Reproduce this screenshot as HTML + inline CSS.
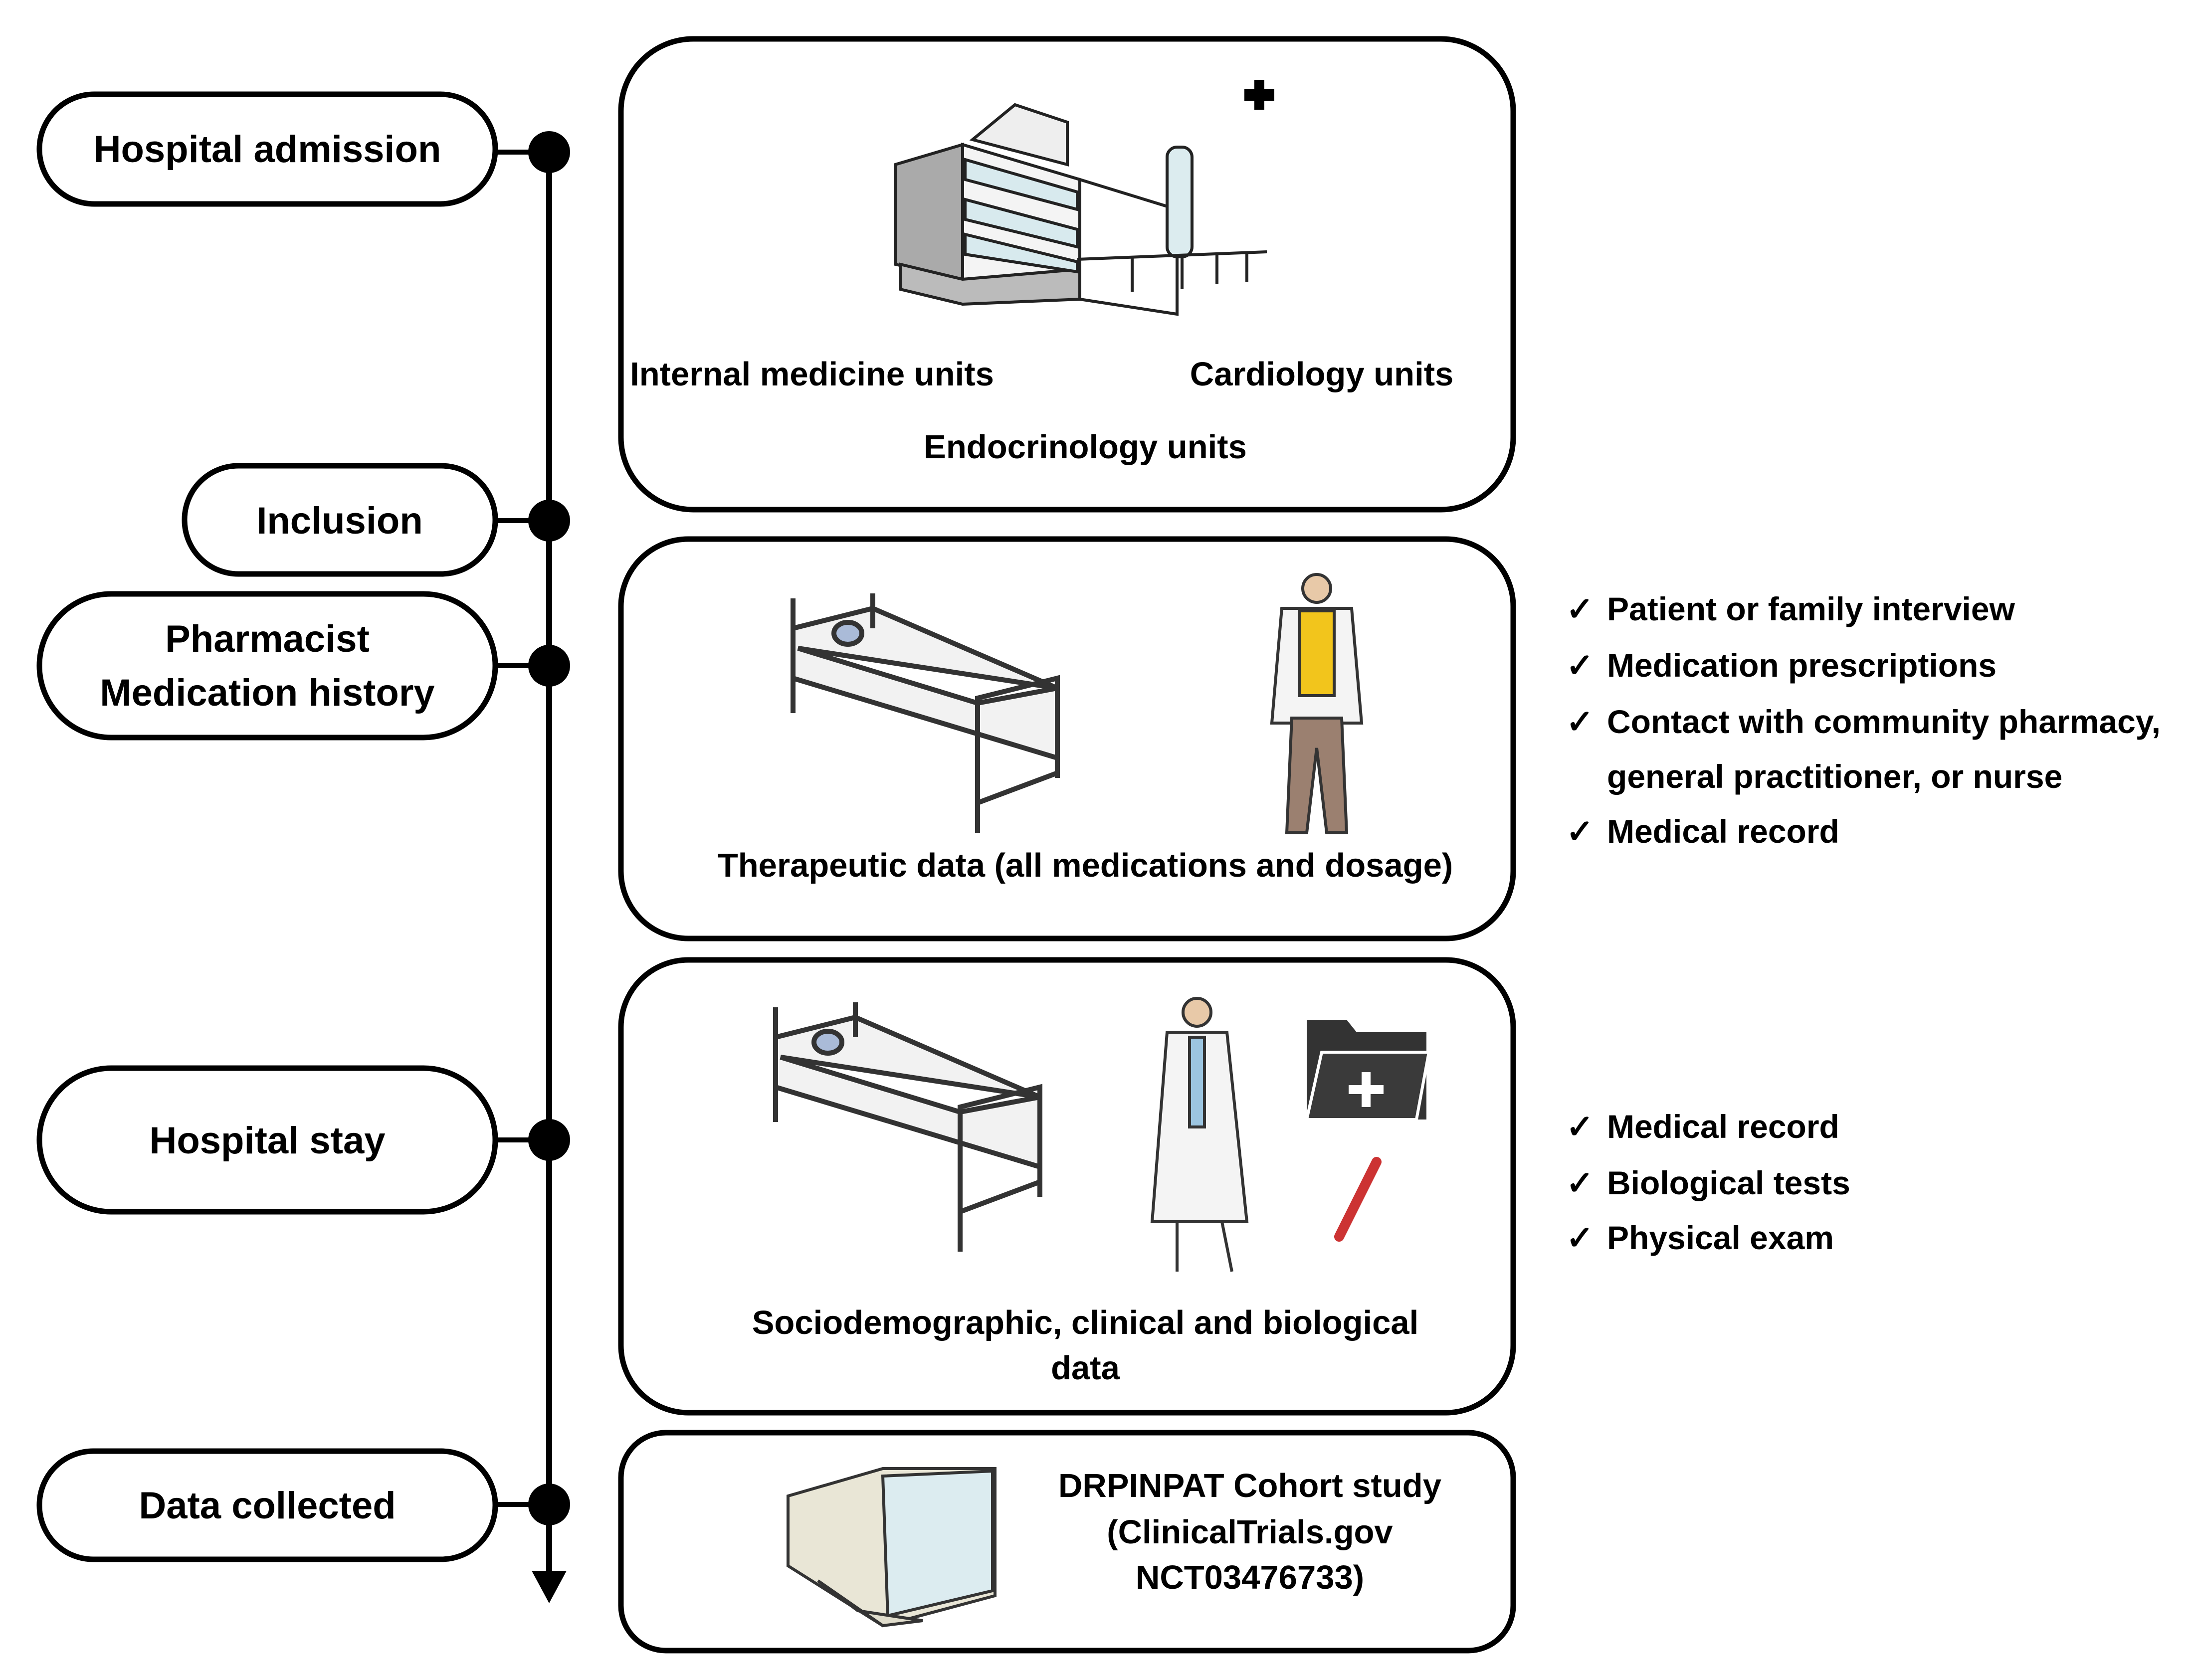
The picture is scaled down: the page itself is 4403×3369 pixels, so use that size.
<!DOCTYPE html>
<html><head><meta charset="utf-8"><style>
html,body{margin:0;padding:0;background:#fff;}
svg{display:block;}
text{font-family:"Liberation Sans",sans-serif;font-weight:bold;fill:#000;}
</style></head><body>
<svg width="4403" height="3369" viewBox="0 0 4403 3369" xmlns="http://www.w3.org/2000/svg">
<line x1="1101" y1="305" x2="1101" y2="3160" stroke="#000" stroke-width="12"/>
<polygon points="1066,3150 1136,3150 1101,3215" fill="#000"/>
<g fill="#000">
<circle cx="1101" cy="305" r="42"/><circle cx="1101" cy="1044" r="42"/>
<circle cx="1101" cy="1335" r="42"/><circle cx="1101" cy="2286" r="42"/>
<circle cx="1101" cy="3017" r="42"/>
</g>
<g stroke="#000" stroke-width="10">
<line x1="993" y1="305" x2="1101" y2="305"/><line x1="993" y1="1044" x2="1101" y2="1044"/>
<line x1="993" y1="1335" x2="1101" y2="1335"/><line x1="993" y1="2286" x2="1101" y2="2286"/>
<line x1="993" y1="3017" x2="1101" y2="3017"/>
</g>
<g fill="#fff" stroke="#000" stroke-width="11">
<rect x="79" y="189" width="914" height="220" rx="110"/>
<rect x="370" y="934" width="623" height="217" rx="108"/>
<rect x="79" y="1191" width="914" height="288" rx="144"/>
<rect x="79" y="2142" width="914" height="288" rx="144"/>
<rect x="79" y="2910" width="914" height="217" rx="108"/>
</g>
<g font-size="76" text-anchor="middle">
<text x="536" y="325">Hospital admission</text>
<text x="681" y="1070">Inclusion</text>
<text x="536" y="1307">Pharmacist</text>
<text x="536" y="1415">Medication history</text>
<text x="536" y="2313">Hospital stay</text>
<text x="536" y="3045">Data collected</text>
</g>
<g fill="#fff" stroke="#000" stroke-width="11">
<rect x="1245" y="78" width="1789" height="944" rx="145"/>
<rect x="1245" y="1081" width="1789" height="801" rx="135"/>
<rect x="1245" y="1925" width="1789" height="908" rx="135"/>
<rect x="1245" y="2873" width="1789" height="437" rx="90"/>
</g>
<g stroke="#222" stroke-width="6">
<rect x="2515" y="160" width="20" height="60" fill="#000" stroke="none"/>
<rect x="2495" y="178" width="60" height="24" fill="#000" stroke="none"/>
<polygon points="1795,330 1930,290 1930,560 1795,530" fill="#aaa"/>
<polygon points="1930,290 2165,360 2165,600 1930,560" fill="#f4f4f4"/>
<polygon points="1950,280 2035,210 2140,245 2140,330" fill="#eee"/>
<polygon points="2165,360 2360,420 2360,630 2165,600" fill="#fff"/>
<rect x="2340" y="295" width="50" height="220" rx="20" fill="#dcecef"/>
<polygon points="1805,530 1930,560 2165,540 2165,600 1930,610 1805,580" fill="#bbb"/>
<line x1="2160" y1="520" x2="2540" y2="505"/>
<line x1="2270" y1="515" x2="2270" y2="585"/><line x1="2370" y1="510" x2="2370" y2="580"/>
<line x1="2440" y1="508" x2="2440" y2="570"/><line x1="2500" y1="506" x2="2500" y2="565"/>
<g fill="#d8eaee"><polygon points="1935,320 2160,385 2160,420 1935,360"/><polygon points="1935,400 2160,460 2160,495 1935,440"/><polygon points="1935,470 2160,525 2160,545 1935,510"/></g>
</g>
<g font-size="67" text-anchor="middle">
<text x="1628" y="773">Internal medicine units</text>
<text x="2650" y="773">Cardiology units</text>
<text x="2176" y="919">Endocrinology units</text>
</g>
<g stroke="#333" stroke-width="10" fill="none">
<polygon points="1590,1260 1750,1220 2120,1380 2120,1520 1590,1360" fill="#f2f2f2"/>
<polygon points="1600,1300 1960,1410 2120,1380" fill="#fff"/>
<line x1="1590" y1="1200" x2="1590" y2="1430"/><line x1="1750" y1="1190" x2="1750" y2="1260"/>
<line x1="1960" y1="1410" x2="1960" y2="1670"/><line x1="2120" y1="1370" x2="2120" y2="1560"/>
<polygon points="1960,1400 2120,1360 2120,1550 1960,1610"/>
<ellipse cx="1700" cy="1270" rx="28" ry="22" fill="#aabbd8"/>
</g>
<g stroke="#333" stroke-width="6">
<circle cx="2640" cy="1180" r="28" fill="#e8c9a8"/>
<polygon points="2570,1220 2710,1220 2730,1450 2550,1450" fill="#f4f4f4"/>
<rect x="2605" y="1225" width="70" height="170" fill="#f2c51c"/>
<polygon points="2590,1440 2690,1440 2700,1670 2660,1670 2640,1500 2620,1670 2580,1670" fill="#9b8070"/>
</g>
<text x="2176" y="1758" font-size="67" text-anchor="middle">Therapeutic data (all medications and dosage)</text>
<g stroke="#333" stroke-width="10" fill="none">
<polygon points="1555,2080 1715,2040 2085,2200 2085,2340 1555,2180" fill="#f2f2f2"/>
<polygon points="1565,2120 1925,2230 2085,2200" fill="#fff"/>
<line x1="1555" y1="2020" x2="1555" y2="2250"/><line x1="1715" y1="2010" x2="1715" y2="2080"/>
<line x1="1925" y1="2230" x2="1925" y2="2510"/><line x1="2085" y1="2190" x2="2085" y2="2400"/>
<polygon points="1925,2220 2085,2180 2085,2370 1925,2430"/>
<ellipse cx="1660" cy="2090" rx="28" ry="22" fill="#aabbd8"/>
</g>
<g stroke="#333" stroke-width="6">
<circle cx="2400" cy="2030" r="28" fill="#e8c9a8"/>
<polygon points="2340,2070 2460,2070 2500,2450 2310,2450" fill="#f4f4f4"/>
<rect x="2385" y="2080" width="30" height="180" fill="#9cc5e0"/>
<line x1="2360" y1="2450" x2="2360" y2="2550"/><line x1="2450" y1="2450" x2="2470" y2="2550"/>
</g>
<path d="M2620,2045 h80 l20,25 h140 v175 h-240 z" fill="#333"/>
<polygon points="2650,2110 2865,2110 2840,2245 2620,2245" fill="#3a3a3a" stroke="#fff" stroke-width="6"/>
<rect x="2730" y="2150" width="18" height="70" fill="#fff"/><rect x="2704" y="2176" width="70" height="18" fill="#fff"/>
<line x1="2760" y1="2330" x2="2685" y2="2480" stroke="#c33" stroke-width="20" stroke-linecap="round"/>
<text x="2176" y="2675" font-size="67" text-anchor="middle">Sociodemographic, clinical and biological</text>
<text x="2176" y="2766" font-size="67" text-anchor="middle">data</text>
<g stroke="#333" stroke-width="6">
<polygon points="1580,3000 1770,2945 1995,2945 1995,3200 1770,3260 1580,3140" fill="#e9e6d6"/>
<polygon points="1770,2960 1990,2950 1990,3190 1780,3240" fill="#dcecf0"/>
<polygon points="1640,3170 1770,3260 1850,3250 1720,3230" fill="#e0ddcc"/>
</g>
<g font-size="67" text-anchor="middle">
<text x="2506" y="3002">DRPINPAT Cohort study</text>
<text x="2506" y="3095">(ClinicalTrials.gov</text>
<text x="2506" y="3186">NCT03476733)</text>
</g>
<g font-size="66">
<text x="3140" y="1244" font-weight="normal">✓</text><text x="3222" y="1244">Patient or family interview</text>
<text x="3140" y="1357" font-weight="normal">✓</text><text x="3222" y="1357">Medication prescriptions</text>
<text x="3140" y="1470" font-weight="normal">✓</text><text x="3222" y="1470">Contact with community pharmacy,</text>
<text x="3222" y="1580">general practitioner, or nurse</text>
<text x="3140" y="1690" font-weight="normal">✓</text><text x="3222" y="1690">Medical record</text>
<text x="3140" y="2282" font-weight="normal">✓</text><text x="3222" y="2282">Medical record</text>
<text x="3140" y="2395" font-weight="normal">✓</text><text x="3222" y="2395">Biological tests</text>
<text x="3140" y="2505" font-weight="normal">✓</text><text x="3222" y="2505">Physical exam</text>
</g>
</svg>
</body></html>
